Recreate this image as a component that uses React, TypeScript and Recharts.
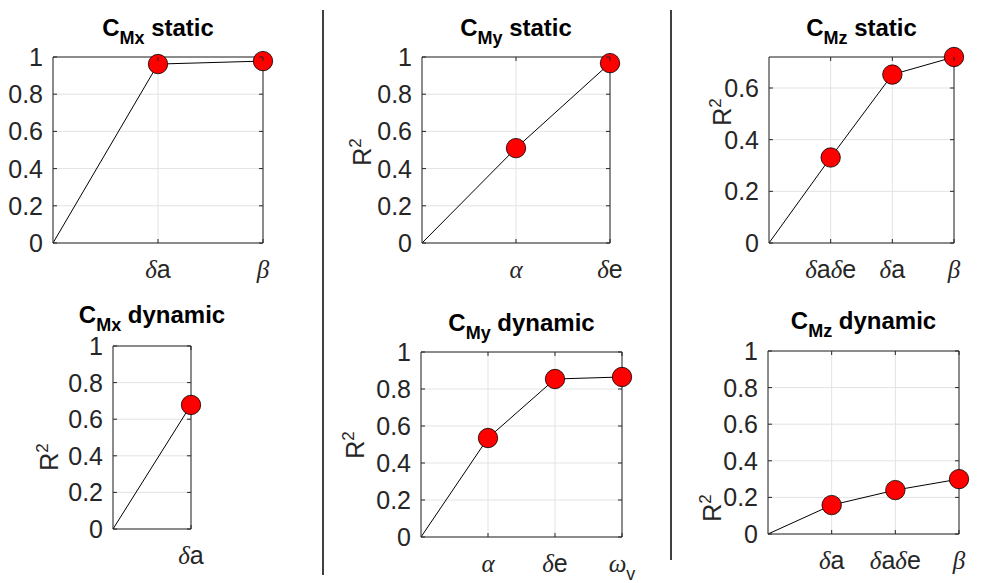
import React from 'react';
import { LineChart, Line, XAxis, YAxis, CartesianGrid, ReferenceLine } from 'recharts';

// R² reached as model terms are added, per moment coefficient
const cmxStaticTerms = ['δa', 'β'];
const cmxStaticR2 = [0.962, 0.978];
const cmyStaticTerms = ['α', 'δe'];
const cmyStaticR2 = [0.51, 0.967];
const cmzStaticTerms = ['δaδe', 'δa', 'β'];
const cmzStaticR2 = [0.331, 0.652, 0.72];

const cmxDynamicTerms = ['δa'];
const cmxDynamicR2 = [0.678];
const cmyDynamicTerms = ['α', 'δe', 'ω_v'];
const cmyDynamicR2 = [0.535, 0.854, 0.865];
const cmzDynamicTerms = ['δa', 'δaδe', 'β'];
const cmzDynamicR2 = [0.158, 0.24, 0.3];

const unitTicks = [0, 0.2, 0.4, 0.6, 0.8, 1];
const cmzStaticTicks = [0, 0.2, 0.4, 0.6];

const AXIS = '#262626';
const GRID = '#e3e3e3';
const SANS = '"Liberation Sans", Arial, Helvetica, sans-serif';
const SERIF = '"Liberation Serif", "Times New Roman", serif';
const FS = 25;

const PAD_L = 80;
const PAD_R = 30;
const PAD_T = 15;
const PAD_B = 50;

type Box = { x: number; y: number; w: number; h: number };

interface PanelSpec {
  sub: string;
  kind: string;
  terms: string[];
  values: number[];
  yMax: number;
  yTicks: number[];
  box: Box;
  titleY: number;
  ylabel?: { x: number; y: number };
}

const panels: PanelSpec[] = [
  { sub: 'Mx', kind: 'static', terms: cmxStaticTerms, values: cmxStaticR2, yMax: 1, yTicks: unitTicks,
    box: { x: 53, y: 57, w: 210, h: 186 }, titleY: 36 },
  { sub: 'My', kind: 'static', terms: cmyStaticTerms, values: cmyStaticR2, yMax: 1, yTicks: unitTicks,
    box: { x: 422, y: 57, w: 188, h: 186 }, titleY: 36, ylabel: { x: 371, y: 152 } },
  { sub: 'Mz', kind: 'static', terms: cmzStaticTerms, values: cmzStaticR2, yMax: 0.72, yTicks: cmzStaticTicks,
    box: { x: 769, y: 57, w: 185, h: 186 }, titleY: 36, ylabel: { x: 731, y: 112 } },
  { sub: 'Mx', kind: 'dynamic', terms: cmxDynamicTerms, values: cmxDynamicR2, yMax: 1, yTicks: unitTicks,
    box: { x: 113, y: 346, w: 78, h: 183 }, titleY: 323, ylabel: { x: 58, y: 457 } },
  { sub: 'My', kind: 'dynamic', terms: cmyDynamicTerms, values: cmyDynamicR2, yMax: 1, yTicks: unitTicks,
    box: { x: 421, y: 352, w: 201, h: 185 }, titleY: 331, ylabel: { x: 364, y: 445 } },
  { sub: 'Mz', kind: 'dynamic', terms: cmzDynamicTerms, values: cmzDynamicR2, yMax: 1, yTicks: unitTicks,
    box: { x: 768, y: 351, w: 191, h: 183 }, titleY: 329, ylabel: { x: 721, y: 508 } },
];

// greek symbols in italic serif, latin letters in sans, "_v" as subscript
function termParts(term: string) {
  const pieces = term.match(/_[a-z]|[α-ω]|[a-z]+/g) || [];
  return pieces.map((piece, i) => {
    if (piece.startsWith('_')) {
      return (
        <tspan key={i} dy={8} fontSize={18} fontFamily={SANS}>
          {piece.slice(1)}
        </tspan>
      );
    }
    if (/[α-ω]/.test(piece)) {
      return (
        <tspan key={i} fontFamily={SERIF} fontStyle="italic">
          {piece}
        </tspan>
      );
    }
    return (
      <tspan key={i} fontFamily={SANS}>
        {piece}
      </tspan>
    );
  });
}

function XTick(props: any) {
  const { x, y, payload, terms, h } = props;
  const term = terms[payload.value - 1];
  return (
    <g>
      <line x1={x} y1={y} x2={x} y2={y - 4} stroke={AXIS} />
      <line x1={x} y1={y - h} x2={x} y2={y - h + 4} stroke={AXIS} />
      <text x={x} y={y + 35} textAnchor="middle" fontSize={FS} fill={AXIS}>
        {term ? termParts(term) : null}
      </text>
    </g>
  );
}

function YTick(props: any) {
  const { x, y, payload, w } = props;
  return (
    <g>
      <line x1={x} y1={y} x2={x + 4} y2={y} stroke={AXIS} />
      <line x1={x + w} y1={y} x2={x + w - 4} y2={y} stroke={AXIS} />
      <text x={x - 10} y={y + 9} textAnchor="end" fontSize={FS} fontFamily={SANS} fill={AXIS}>
        {String(payload.value)}
      </text>
    </g>
  );
}

function renderDot(props: any) {
  const { cx, cy, index } = props;
  if (index === 0) return <g key={index} />;
  return <circle key={index} cx={cx} cy={cy} r={9.7} fill="#ff0000" stroke="#000" strokeWidth={0.8} />;
}

function Panel({ p }: { p: PanelSpec }) {
  const { box } = p;
  const n = p.terms.length;
  const rows = [{ pos: 0, r2: 0 }, ...p.terms.map((_, i) => ({ pos: i + 1, r2: p.values[i] }))];
  const xTicks = p.terms.map((_, i) => i + 1);
  return (
    <div style={{ position: 'absolute', left: box.x - PAD_L, top: box.y - PAD_T }}>
      <LineChart
        width={box.w + PAD_L + PAD_R}
        height={box.h + PAD_T + PAD_B}
        data={rows}
        margin={{ top: PAD_T, right: PAD_R, bottom: 0, left: 0 }}
      >
        <CartesianGrid stroke={GRID} />
        <XAxis
          dataKey="pos"
          type="number"
          domain={[0, n]}
          ticks={xTicks}
          interval={0}
          height={PAD_B}
          tickSize={0}
          tickMargin={0}
          tickLine={false}
          axisLine={{ stroke: AXIS }}
          tick={<XTick terms={p.terms} h={box.h} />}
        />
        <YAxis
          type="number"
          domain={[0, p.yMax]}
          ticks={p.yTicks}
          interval={0}
          width={PAD_L}
          tickSize={0}
          tickMargin={0}
          tickLine={false}
          axisLine={{ stroke: AXIS }}
          tick={<YTick w={box.w} />}
        />
        <ReferenceLine y={p.yMax} stroke={AXIS} strokeOpacity={1} />
        <ReferenceLine x={n} stroke={AXIS} strokeOpacity={1} />
        <Line
          dataKey="r2"
          type="linear"
          stroke="#000"
          strokeWidth={1}
          dot={renderDot}
          activeDot={false}
          isAnimationActive={false}
        />
      </LineChart>
    </div>
  );
}

export default function App() {
  return (
    <div style={{ position: 'absolute', left: 0, top: 0, width: 984, height: 583, background: '#fff' }}>
      {panels.map((p, i) => (
        <Panel key={i} p={p} />
      ))}
      <svg width={984} height={583} style={{ position: 'absolute', left: 0, top: 0, pointerEvents: 'none' }}>
        <line x1={323} y1={10} x2={323} y2={575} stroke="#000" strokeWidth={1.5} />
        <line x1={671} y1={10} x2={671} y2={560} stroke="#000" strokeWidth={1.5} />
        {panels.map((p, i) => (
          <g key={i}>
            <text
              x={p.box.x + p.box.w / 2}
              y={p.titleY}
              textAnchor="middle"
              fontFamily={SANS}
              fontWeight="bold"
              fontSize={24}
              fill="#000"
            >
              C
              <tspan dy={8} fontSize={18}>
                {p.sub}
              </tspan>
              <tspan dy={-8}>{' ' + p.kind}</tspan>
            </text>
            {p.ylabel && (
              <text
                transform={`translate(${p.ylabel.x},${p.ylabel.y}) rotate(-90)`}
                textAnchor="middle"
                fontFamily={SANS}
                fontSize={FS}
                fill={AXIS}
              >
                R
                <tspan dy={-10} fontSize={17}>
                  2
                </tspan>
              </text>
            )}
          </g>
        ))}
      </svg>
    </div>
  );
}
